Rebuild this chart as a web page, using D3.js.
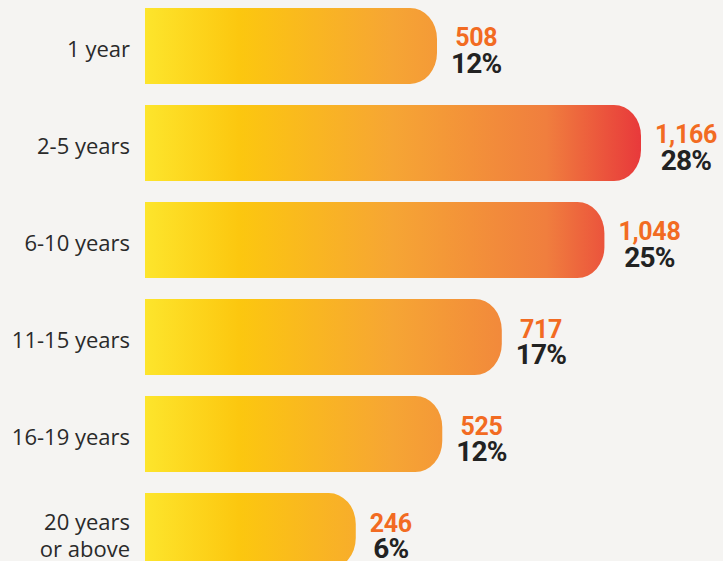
<!DOCTYPE html>
<html>
<head>
<meta charset="utf-8">
<script src="https://cdn.jsdelivr.net/npm/d3@7"></script>
<style>
  html, body { margin: 0; padding: 0; background: #f5f4f2; }
  svg { display: block; }
</style>
</head>
<body>
<div id="chart"></div>
<script>
// data
var categories = ['1 year', '2-5 years', '6-10 years', '11-15 years', '16-19 years', '20 years|or above'];
var counts = [508, 1166, 1048, 717, 525, 246];
var percents = [12, 28, 25, 17, 12, 6];

var chart = {
	w: 723,
	h: 561,
	barLeft: 145,
	labelRight: 130,
	svg: null
};

chart.svg = d3.select('#chart').append('svg')
		.attr('width', chart.w)
		.attr('height', chart.h);

chart.svg.append('rect')
		.attr('width', chart.w)
		.attr('height', chart.h)
		.attr('fill', '#f5f4f2');

var rows = categories.map(function(c, i) {
	return {cat: c, count: counts[i], pct: percents[i]};
});

// bar ends are not proportional from the bar start, so the scale maps value -> end x
var xScale = d3.scaleLinear()
	.domain([0, d3.max(counts)])
	.range([279.5, 641]);

var yScale = d3.scaleBand()
	.domain(categories)
	.range([-2.5, 579.5])
	.paddingInner(0.2165)
	.paddingOuter(0.108);

// one gradient across the whole plot, so long bars reach the red end
var grad = chart.svg.append('defs').append('linearGradient')
	.attr('id', 'barGrad')
	.attr('gradientUnits', 'userSpaceOnUse')
	.attr('x1', chart.barLeft).attr('x2', 641)
	.attr('y1', 0).attr('y2', 0);
[[0, '#fde52c'], [0.19, '#fcc70f'], [0.5, '#f6a534'], [0.81, '#f07e3e'], [1, '#e8393b']]
	.forEach(function(s) {
		grad.append('stop').attr('offset', s[0]).attr('stop-color', s[1]);
	});

function barPath(d) {
	var x0 = chart.barLeft, x1 = xScale(d.count);
	var y0 = yScale(d.cat), h = yScale.bandwidth();
	var rx = 27, ry = 31;
	return 'M' + x0 + ',' + y0 +
		'H' + (x1 - rx) +
		'A' + rx + ',' + ry + ' 0 0 1 ' + x1 + ',' + (y0 + ry) +
		'V' + (y0 + h - ry) +
		'A' + rx + ',' + ry + ' 0 0 1 ' + (x1 - rx) + ',' + (y0 + h) +
		'H' + x0 + 'Z';
}

chart.svg.append('g').attr('class', 'bars')
	.selectAll('path')
	.data(rows).enter()
	.append('path')
		.attr('d', barPath)
		.attr('fill', 'url(#barGrad)');

// category labels on the left
var labels = chart.svg.append('g').attr('class', 'labels')
	.selectAll('text')
	.data(rows).enter()
	.append('text')
		.attr('x', chart.labelRight)
		.attr('y', function(d) { return yScale(d.cat) + yScale.bandwidth() / 2; })
		.attr('text-anchor', 'end')
		.style('font-family', '"Open Sans", sans-serif')
		.style('font-size', '22px')
		.attr('fill', '#2a2a2a');

labels.each(function(d) {
	var parts = d.cat.split('|');
	var t = d3.select(this);
	if (parts.length == 1) {
		t.append('tspan').attr('x', chart.labelRight).attr('dy', '0.5em').text(parts[0]);
	} else {
		t.append('tspan').attr('x', chart.labelRight).attr('dy', '-0.05em').text(parts[0]);
		t.append('tspan').attr('x', chart.labelRight).attr('dy', '1.25em').text(parts[1]);
	}
});

// value + percent, centred together to the right of each bar
var vals = chart.svg.append('g').attr('class', 'values')
	.selectAll('g')
	.data(rows).enter()
	.append('g');

vals.each(function(d) {
	var g = d3.select(this);
	var yc = yScale(d.cat) + yScale.bandwidth() / 2;
	var a = g.append('text')
		.attr('y', yc + 0.5)
		.attr('text-anchor', 'middle')
		.style('font-family', 'Roboto, "Liberation Sans", sans-serif')
		.style('font-weight', 'bold')
		.style('font-size', '25px')
		.style('letter-spacing', '-0.3px')
		.attr('fill', '#f26b22')
		.text(d3.format(',')(d.count));
	var b = g.append('text')
		.attr('y', yc + 27)
		.attr('text-anchor', 'middle')
		.style('font-family', 'Roboto, "Liberation Sans", sans-serif')
		.style('font-weight', 'bold')
		.style('font-size', '28px')
		.style('letter-spacing', '-0.8px')
		.attr('fill', '#222222')
		.text(d.pct + '%');
	var wmax = Math.max(a.node().getComputedTextLength(), b.node().getComputedTextLength());
	var cx = xScale(d.count) + 14 + wmax / 2;
	a.attr('x', cx);
	b.attr('x', cx);
});
</script>
</body>
</html>
